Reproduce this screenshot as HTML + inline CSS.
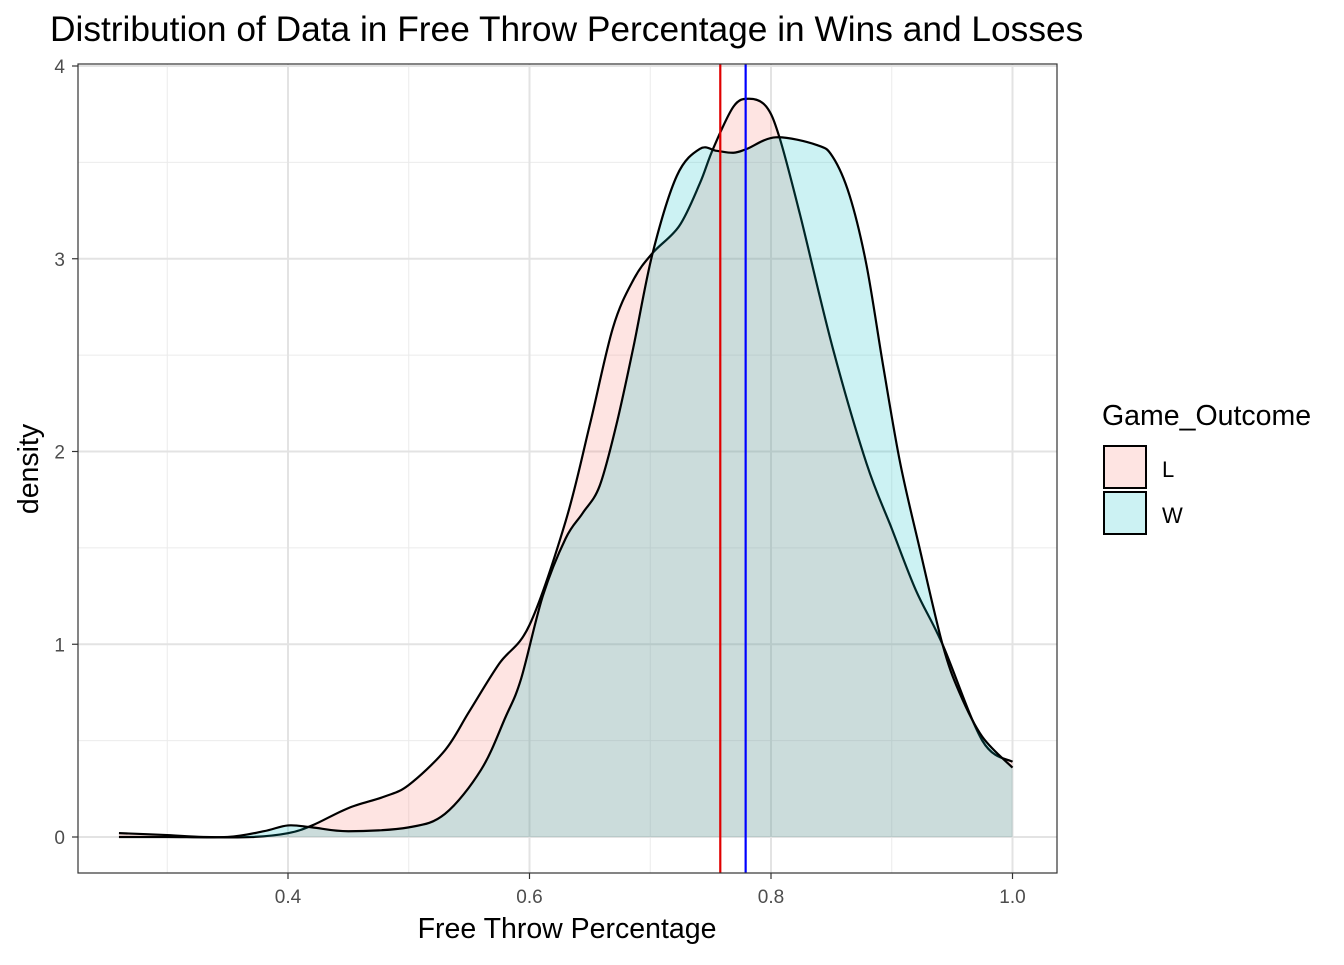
<!DOCTYPE html>
<html><head><meta charset="utf-8"><style>
body{margin:0;background:#fff}
svg text{font-family:"Liberation Sans",sans-serif}
</style></head><body>
<svg width="1344" height="960">
<g id="grid"></g>
<g id="marks"></g>
<rect x="78" y="64" width="979" height="809" fill="none" stroke="#333" stroke-width="1.2"/>
<g id="axes"></g>
<text x="50" y="41" font-size="35.3" fill="#000">Distribution of Data in Free Throw Percentage in Wins and Losses</text>
<text x="567" y="938" font-size="28.5" text-anchor="middle">Free Throw Percentage</text>
<text x="38" y="469" font-size="28.5" text-anchor="middle" transform="rotate(-90 38 469)">density</text>
<g>
<text x="1102" y="425" font-size="28.5">Game_Outcome</text>
<rect x="1104" y="446" width="42" height="42" fill="rgba(248,118,109,0.2)" stroke="#000" stroke-width="2"/>
<rect x="1104" y="492" width="42" height="42" fill="rgba(0,191,196,0.2)" stroke="#000" stroke-width="2"/>
<text x="1162" y="477" font-size="22">L</text>
<text x="1162" y="523" font-size="22">W</text>
</g>
</svg>
<script>
const xL=[0.26,0.30,0.33,0.37,0.40,0.42,0.45,0.48,0.50,0.53,0.55,0.575,0.60,0.63,0.65,0.669,0.686,0.702,0.724,0.741,0.752,0.769,0.782,0.796,0.807,0.824,0.851,0.879,0.90,0.92,0.942,0.975,1.0];
const yL=[0.02,0.01,0.0,0.0,0.02,0.06,0.15,0.21,0.27,0.45,0.65,0.9,1.1,1.64,2.14,2.64,2.89,3.03,3.17,3.39,3.57,3.79,3.83,3.79,3.63,3.23,2.54,1.94,1.6,1.28,1.0,0.5,0.39];
const xW=[0.26,0.30,0.35,0.38,0.40,0.42,0.45,0.50,0.53,0.56,0.58,0.593,0.611,0.63,0.644,0.658,0.672,0.686,0.702,0.722,0.741,0.755,0.769,0.78,0.804,0.838,0.851,0.865,0.879,0.893,0.907,0.923,0.942,0.956,0.975,1.0];
const yW=[0.0,0.0,0.0,0.03,0.06,0.05,0.03,0.05,0.12,0.35,0.62,0.82,1.25,1.55,1.68,1.82,2.14,2.54,3.03,3.43,3.57,3.56,3.55,3.57,3.63,3.59,3.53,3.33,2.97,2.44,1.94,1.5,1.0,0.75,0.52,0.36];
const meanL=0.758, meanW=0.779;
const xTicks=[0.4,0.6,0.8,1.0], xMinor=[0.3,0.5,0.7,0.9];
const yTicks=[0,1,2,3,4], yMinor=[0.5,1.5,2.5,3.5];
const X=v=>288+(v-0.4)*1207.5, Y=v=>837-v*192.75;
const NS='http://www.w3.org/2000/svg';
function mk(p,t,a){const e=document.createElementNS(NS,t);for(const k in a)e.setAttribute(k,a[k]);p.appendChild(e);return e;}
const grid=document.getElementById('grid'),marks=document.getElementById('marks'),axes=document.getElementById('axes');
xMinor.forEach(v=>{const l=mk(grid,'line',{x1:X(v),x2:X(v),y1:64,y2:873,stroke:'#ebebeb','stroke-width':1});});
yMinor.forEach(v=>{const l=mk(grid,'line',{x1:78,x2:1057,y1:Y(v),y2:Y(v),stroke:'#ebebeb','stroke-width':1});});
xTicks.forEach(v=>{const l=mk(grid,'line',{x1:X(v),x2:X(v),y1:64,y2:873,stroke:'#e3e3e3','stroke-width':2});
const t=mk(axes,'line',{x1:X(v),x2:X(v),y1:873,y2:879,stroke:'#333','stroke-width':1.2});
const tx=mk(axes,'text',{x:X(v),y:903,'font-size':19,'text-anchor':'middle',fill:'#4d4d4d'});tx.textContent=v.toFixed(1);});
yTicks.forEach(v=>{const l=mk(grid,'line',{x1:78,x2:1057,y1:Y(v),y2:Y(v),stroke:'#e3e3e3','stroke-width':2});
const t=mk(axes,'line',{x1:72,x2:78,y1:Y(v),y2:Y(v),stroke:'#333','stroke-width':1.2});
const tx=mk(axes,'text',{x:65,y:Y(v)+7,'font-size':19,'text-anchor':'end',fill:'#4d4d4d'});tx.textContent=v;});
function curve(xs,ys){const p=xs.map((x,i)=>[X(x),Y(ys[i])]);let d='M'+p[0][0]+','+p[0][1];
for(let i=0;i<p.length-1;i++){const p0=p[i-1]||p[i],p1=p[i],p2=p[i+1],p3=p[i+2]||p2;
d+=' C'+(p1[0]+(p2[0]-p0[0])/6)+','+(p1[1]+(p2[1]-p0[1])/6)+' '+(p2[0]-(p3[0]-p1[0])/6)+','+(p2[1]-(p3[1]-p1[1])/6)+' '+p2[0]+','+p2[1];}return d;}
[[xL,yL,'rgba(248,118,109,0.2)','l'],[xW,yW,'rgba(0,191,196,0.2)','w']].forEach(([xs,ys,c,n])=>{
const d=curve(xs,ys);
const f=mk(marks,'path',{d:d+' L'+X(xs[xs.length-1])+','+Y(0)+' L'+X(xs[0])+','+Y(0)+' Z',fill:c,stroke:'none'});
const s=mk(marks,'path',{d:d,fill:'none',stroke:'#000','stroke-width':2.2});});
const ml=mk(marks,'line',{x1:X(meanL),x2:X(meanL),y1:64,y2:873,stroke:'#e00000','stroke-width':2.2});
const mw=mk(marks,'line',{x1:X(meanW),x2:X(meanW),y1:64,y2:873,stroke:'#0000ff','stroke-width':2.2});
</script>
</body></html>
